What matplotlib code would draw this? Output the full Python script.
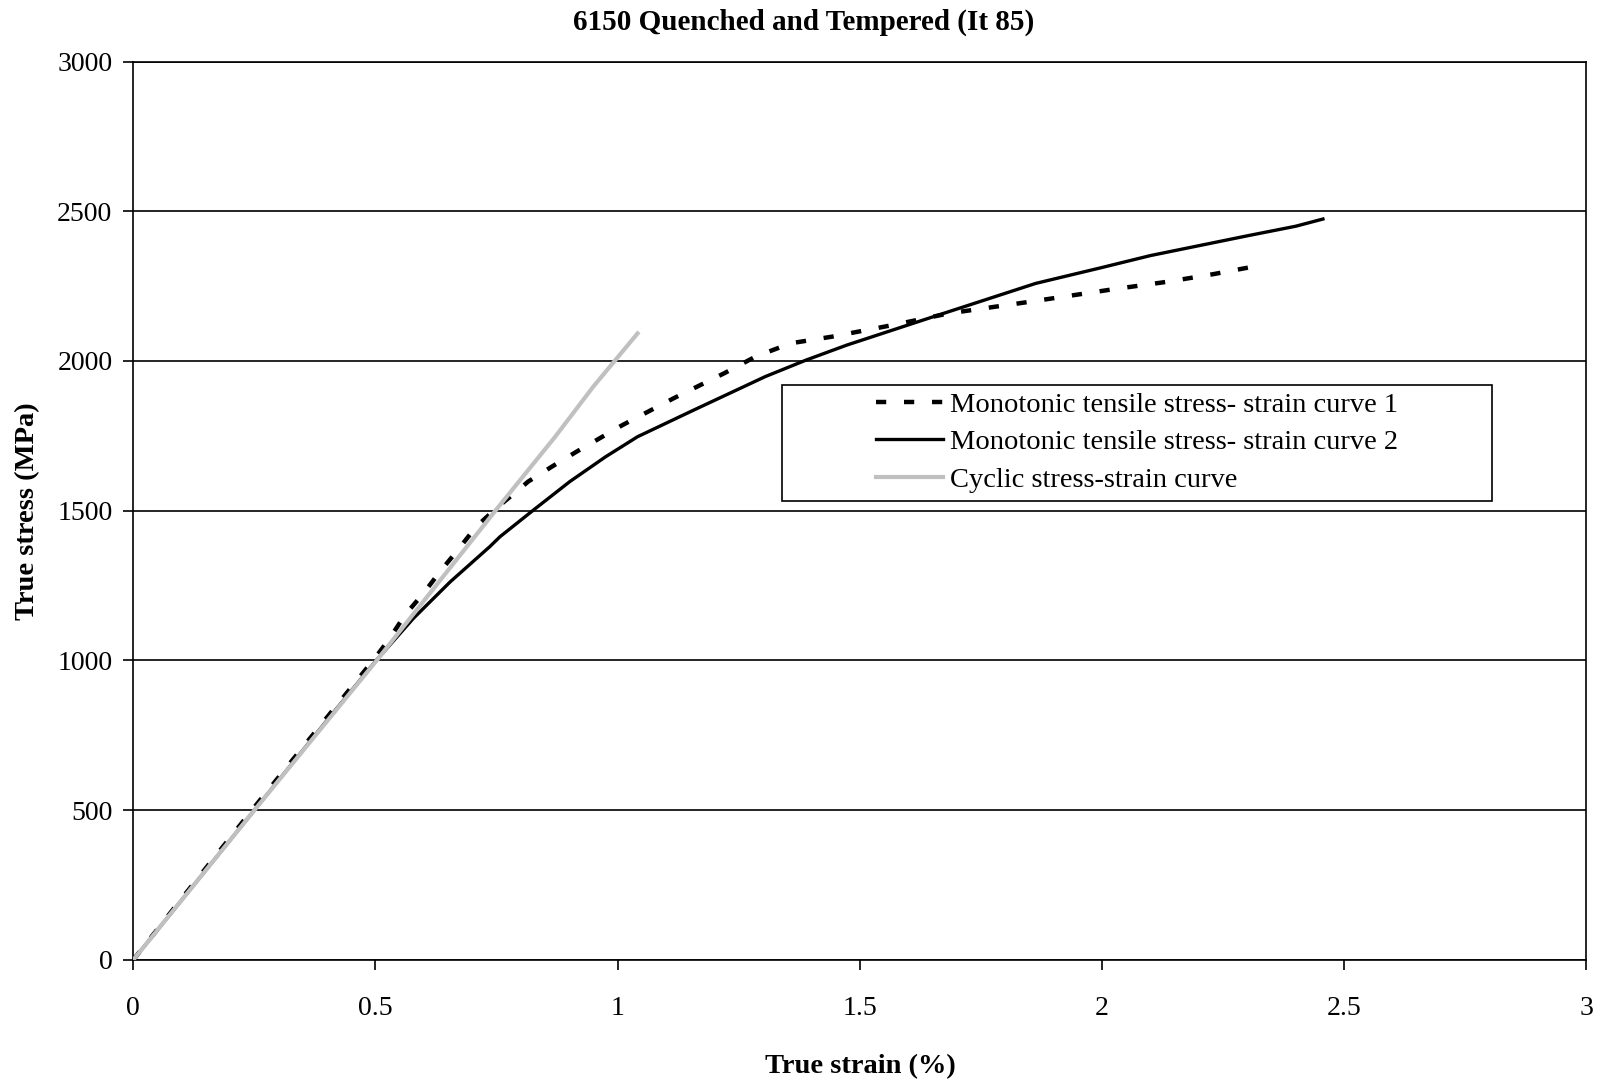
#!/usr/bin/env python3
import matplotlib
matplotlib.use("Agg")
import matplotlib.pyplot as plt
from matplotlib.patches import Rectangle
import numpy as np

# monotonic curve 1 (dashed)
strain_m1 = [0, 0.10, 0.25, 0.40, 0.50, 0.53, 0.56, 0.599, 0.633, 0.671, 0.707, 0.749, 0.795, 0.815,
             0.864, 0.915, 1.010, 1.115, 1.220, 1.284, 1.357, 1.442, 1.568, 1.684, 1.852, 2.021,
             2.137, 2.230, 2.322]
stress_m1 = [0, 205, 510, 810, 1010, 1075, 1150, 1224, 1296, 1371, 1445, 1508, 1569, 1597,
             1647, 1697, 1786, 1875, 1959, 2014, 2059, 2081, 2120, 2159, 2198, 2239,
             2265, 2290, 2318]

# monotonic curve 2 (solid)
strain_m2 = [0, 0.10, 0.25, 0.40, 0.502, 0.578, 0.654, 0.736, 0.757, 0.826, 0.901, 0.975, 1.041,
             1.157, 1.305, 1.389, 1.473, 1.652, 1.863, 1.997, 2.100, 2.200, 2.300, 2.400, 2.456]
stress_m2 = [0, 200, 500, 800, 1001, 1140, 1262, 1380, 1413, 1502, 1597, 1680, 1747,
             1836, 1948, 2003, 2053, 2148, 2259, 2311, 2352, 2385, 2418, 2450, 2474]

# cyclic curve (gray)
strain_cyc = [0, 0.25, 0.50, 0.62, 0.75, 0.87, 0.95, 1.041]
stress_cyc = [0, 500, 995, 1240, 1505, 1745, 1915, 2092]

labels = ["Monotonic tensile stress- strain curve 1",
          "Monotonic tensile stress- strain curve 2",
          "Cyclic stress-strain curve"]

plt.rcParams['font.family'] = ['Liberation Serif', 'DejaVu Serif']

fig = plt.figure(figsize=(16.08, 10.83), dpi=100)
ax = fig.add_axes([0.0829, 0.1137, 0.9037, 0.8295])

ax.plot(strain_m1, stress_m1, color='black', lw=3.2, dashes=(2.3, 4.0),
        dash_capstyle='butt', label=labels[0], zorder=3)
ax.plot(strain_m2, stress_m2, color='black', lw=2.4, label=labels[1], zorder=3)
ax.plot(strain_cyc, stress_cyc, color='#c0c0c0', lw=3.0, label=labels[2], zorder=4)

ax.set_xlim(0, 3)
ax.set_ylim(0, 3000)
ax.set_xticks(np.arange(0, 3.01, 0.5))
ax.set_xticklabels(["0", "0.5", "1", "1.5", "2", "2.5", "3"])
ax.set_yticks(np.arange(0, 3001, 500))
ax.yaxis.grid(True, color='black', lw=1.2)
ax.set_axisbelow(True)
for s in ax.spines.values():
    s.set_color('black')
    s.set_linewidth(1.2)
ax.tick_params(axis='both', direction='out', length=7, width=1.2, labelsize=20)
ax.tick_params(axis='x', pad=19)
ax.tick_params(axis='y', pad=8)

ax.set_xlabel("True strain (%)", fontsize=20.5, fontweight='bold')
ax.set_ylabel("True stress (MPa)", fontsize=20.5, fontweight='bold')
ax.xaxis.set_label_coords(0.5, -0.105)
ax.yaxis.set_label_coords(-0.064, 0.5)
fig.text(0.5, 0.979, "6150 Quenched and Tempered (It 85)", ha='center', va='center',
         fontsize=21, fontweight='bold')

# legend box drawn separately, entries centered inside it
ax.add_patch(Rectangle((0.4467, 0.511), 0.488, 0.1294, transform=ax.transAxes,
                       facecolor='white', edgecolor='black', lw=1.2, zorder=5))
leg = ax.legend(loc='center', bbox_to_anchor=(0.691, 0.576), fontsize=20.5,
                frameon=False, handlelength=2.35, handletextpad=0.25,
                labelspacing=0.4, borderaxespad=0, borderpad=0)
leg.set_zorder(6)

fig.savefig("out.png", dpi=100)
